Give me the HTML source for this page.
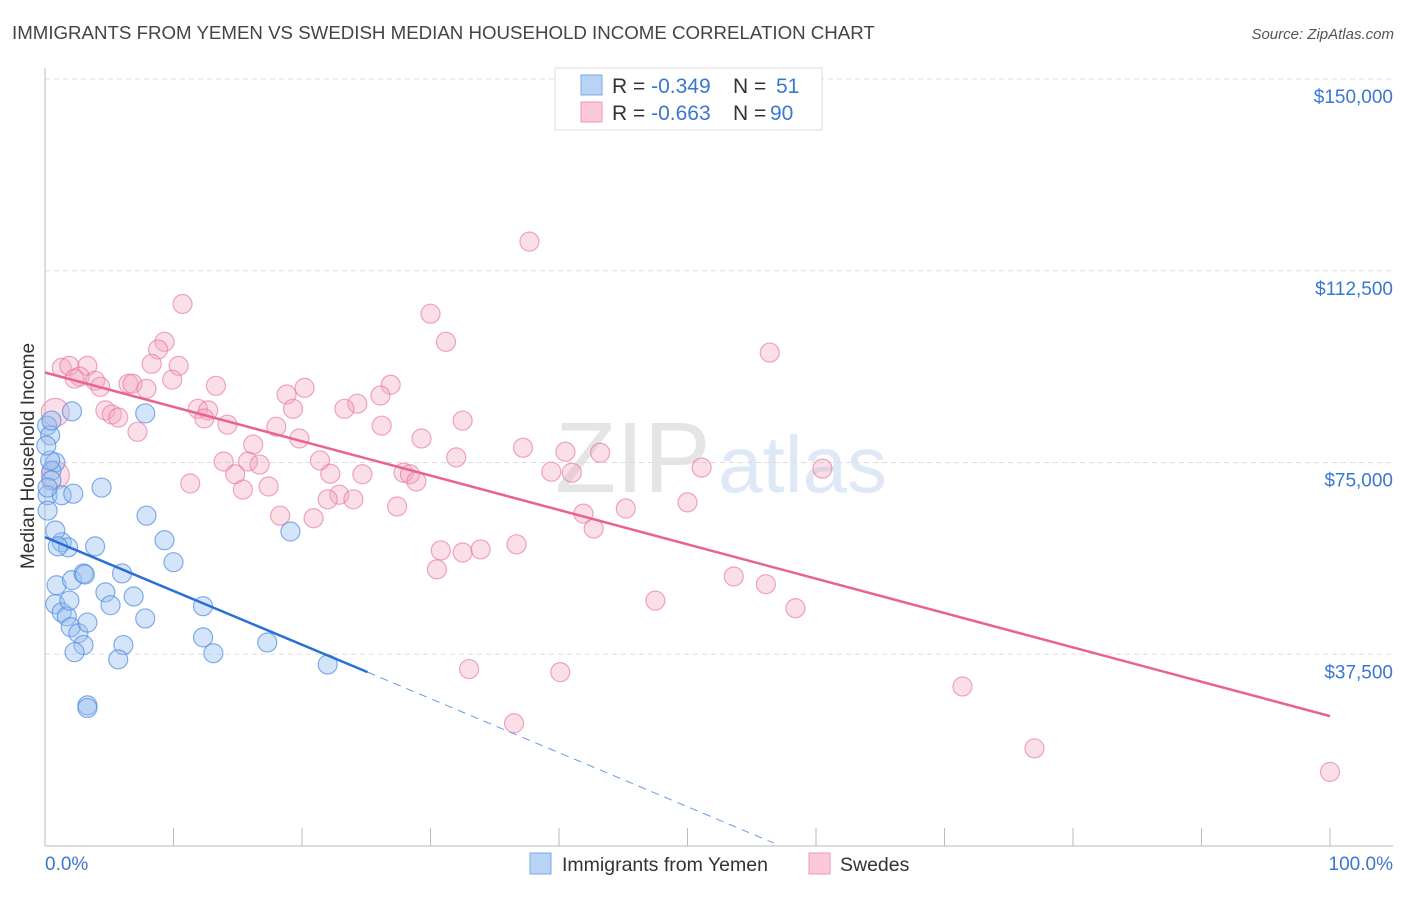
<!DOCTYPE html>
<html><head><meta charset="utf-8"><style>
body{margin:0;background:#fff;font-family:"Liberation Sans",sans-serif;}
svg text{font-family:"Liberation Sans",sans-serif;}
</style></head><body>
<svg id="chart" width="1406" height="892" viewBox="0 0 1406 892" xmlns="http://www.w3.org/2000/svg">
<text x="12" y="39" font-size="18.7" fill="#444">IMMIGRANTS FROM YEMEN VS SWEDISH MEDIAN HOUSEHOLD INCOME CORRELATION CHART</text>
<text x="1394" y="39" font-size="15" fill="#555" font-style="italic" text-anchor="end">Source: ZipAtlas.com</text>
<g opacity="0.16">
<text x="555" y="492" font-size="100" font-family="Liberation Serif,serif" fill="#666">ZIP</text>
<text x="718" y="492" font-size="80" fill="#3a78d0">atlas</text>
</g>
<g id="grid"></g>
<g id="axes"></g>
<g id="marks"></g>
<text transform="translate(34,456) rotate(-90)" font-size="19" fill="#333" text-anchor="middle">Median Household Income</text>
<text x="45" y="870" font-size="19" fill="#3a78d0">0.0%</text>
<text x="1393" y="870" font-size="19" fill="#3a78d0" text-anchor="end">100.0%</text>
<g>
<rect x="555" y="68" width="267" height="62" fill="#fff" stroke="#ddd"/>
<rect x="581" y="75" width="21" height="20" fill="#b9d3f5" stroke="#7aa8e6"/>
<rect x="581" y="102" width="21" height="20" fill="#fbc9d8" stroke="#ee9ab4"/>
<text x="612" y="93" font-size="21" fill="#333">R = <tspan fill="#3a78d0">-0.349</tspan><tspan x="733">N = </tspan><tspan x="776" fill="#3a78d0">51</tspan></text>
<text x="612" y="120" font-size="21" fill="#333">R = <tspan fill="#3a78d0">-0.663</tspan><tspan x="733">N = </tspan><tspan x="770" fill="#3a78d0">90</tspan></text>
</g>
<g>
<rect x="530" y="853" width="21" height="21" fill="#b9d3f5" stroke="#7aa8e6"/>
<text x="562" y="871" font-size="19.5" fill="#333">Immigrants from Yemen</text>
</g>
<g>
<rect x="809" y="853" width="21" height="21" fill="#fbc9d8" stroke="#ee9ab4"/>
<text x="840" y="871" font-size="19.5" fill="#333">Swedes</text>
</g>
</svg>
<script>
const yTicks=[37.5,75,112.5,150];
const yTickLabels=["$37,500","$75,000","$112,500","$150,000"];
const xTicks=[0,10,20,30,40,50,60,70,80,90,100];
const blueX=[0.16,0.4,0.5,2.1,7.8,0.8,0.5,0.5,0.2,1.3,2.2,4.4,1.3,1.8,3.9,7.9,9.3,10.0,0.9,2.1,3.0,3.1,6.0,4.7,5.1,6.9,0.8,1.3,1.7,2.0,2.6,3.3,7.8,12.3,6.1,3.0,2.3,5.7,12.3,13.1,17.3,22.0,3.3,3.3,0.2,0.2,0.8,1.0,0.4,0.1,1.9,19.1];
const blueY=[82.2,80.3,83.2,85.0,84.6,75.0,73.4,71.5,68.6,68.6,68.9,70.1,59.4,58.4,58.6,64.6,59.8,55.5,51.0,52.0,53.3,53.1,53.3,49.6,47.1,48.8,47.3,45.7,44.9,42.8,41.6,43.7,44.5,46.9,39.3,39.3,37.9,36.5,40.8,37.7,39.8,35.5,27.5,27.0,70.1,65.6,61.7,58.6,75.4,78.3,48.0,61.5];
const pinkX=[37.7,10.7,30.0,31.2,9.3,8.8,8.3,10.4,1.3,1.9,3.3,2.7,2.3,3.9,4.3,6.5,6.8,7.9,9.9,13.3,18.8,20.2,26.9,26.1,19.3,24.3,23.3,11.9,12.7,4.7,5.2,5.7,12.4,14.2,18.0,7.2,19.8,26.2,32.5,29.3,56.4,16.2,37.2,40.5,43.2,32.0,21.4,13.9,15.8,16.7,14.8,22.2,24.7,27.9,28.4,28.9,39.4,41.0,51.1,60.5,11.3,15.4,17.4,22.9,24.0,22.0,20.9,18.3,27.4,41.9,42.7,45.2,50.0,30.8,32.5,33.9,36.7,30.5,53.6,56.1,47.5,58.4,33.0,40.1,71.4,36.5,77.0,100,0.8,0.8];
const pinkY=[118.2,106.0,104.1,98.6,98.6,97.1,94.3,93.9,93.5,93.9,93.9,91.8,91.4,91.0,89.8,90.4,90.4,89.4,91.2,90.0,88.3,89.6,90.2,88.1,85.5,86.5,85.5,85.5,85.2,85.2,84.4,83.8,83.6,82.4,82.0,81.0,79.7,82.2,83.2,79.7,96.5,78.5,77.9,77.1,76.9,76.0,75.4,75.2,75.2,74.6,72.7,72.8,72.7,73.0,72.7,71.3,73.2,73.0,74.0,73.8,70.9,69.7,70.3,68.7,67.8,67.8,64.1,64.6,66.4,65.0,62.1,66.0,67.2,57.8,57.4,58.0,59.0,54.1,52.7,51.2,48.0,46.5,34.6,34.0,31.2,24.0,19.1,14.5,84.8,72.5];
const pinkR=pinkX.map((_,i)=>i>=88?14:9.5);
const pinkTrend=[[0,92.6],[100,25.4]];
const blueTrendSolid=[[0,60.4],[25.1,34.0]];
const blueTrendDash=[[25.1,34.0],[56.7,0.6]];

const NS="http://www.w3.org/2000/svg";
const X=v=>45+v*12.85;
const Y=v=>846-v*5.1133;
function mk(tag,attrs,parent){const e=document.createElementNS(NS,tag);for(const k in attrs)e.setAttribute(k,attrs[k]);document.getElementById(parent).appendChild(e);return e;}
yTicks.forEach((t,i)=>{
  const g=mk('line',{x1:45,x2:1393,y1:Y(t),y2:Y(t),stroke:'#ddd','stroke-dasharray':'5,4'},'grid');
  
  
  const l=mk('text',{x:1393,y:Y(t)+24,'font-size':19,fill:'#3a78d0','text-anchor':'end'},'grid');
  l.textContent=yTickLabels[i];
  
  
});
const ya=mk('line',{x1:45,x2:45,y1:68,y2:846,stroke:'#bbb'},'axes');


const xa=mk('line',{x1:45,x2:1393,y1:846,y2:846,stroke:'#bbb'},'axes');


xTicks.forEach(t=>{
  const k=mk('line',{x1:X(t),x2:X(t),y1:828,y2:846,stroke:'#bbb'},'axes');
  
  
});
pinkX.forEach((x,i)=>{
  const c=mk('circle',{cx:X(x),cy:Y(pinkY[i]),r:pinkR[i],fill:'rgba(245,165,192,0.36)',stroke:'rgba(232,120,155,0.65)','stroke-width':1.2},'marks');
  
  
});
blueX.forEach((x,i)=>{
  const c=mk('circle',{cx:X(x),cy:Y(blueY[i]),r:9.5,fill:'rgba(150,190,240,0.4)',stroke:'rgba(80,140,225,0.7)','stroke-width':1.2},'marks');
  
  
});
const pt=mk('line',{x1:X(pinkTrend[0][0]),y1:Y(pinkTrend[0][1]),x2:X(pinkTrend[1][0]),y2:Y(pinkTrend[1][1]),stroke:'#e8638f','stroke-width':2.5},'marks');


const bt=mk('line',{x1:X(blueTrendSolid[0][0]),y1:Y(blueTrendSolid[0][1]),x2:X(blueTrendSolid[1][0]),y2:Y(blueTrendSolid[1][1]),stroke:'#2a6fd6','stroke-width':2.5},'marks');


const bd=mk('line',{x1:X(blueTrendDash[0][0]),y1:Y(blueTrendDash[0][1]),x2:X(blueTrendDash[1][0]),y2:Y(blueTrendDash[1][1]),stroke:'#6a9be0','stroke-width':1,'stroke-dasharray':'8,6'},'marks');


</script>
</body></html>
